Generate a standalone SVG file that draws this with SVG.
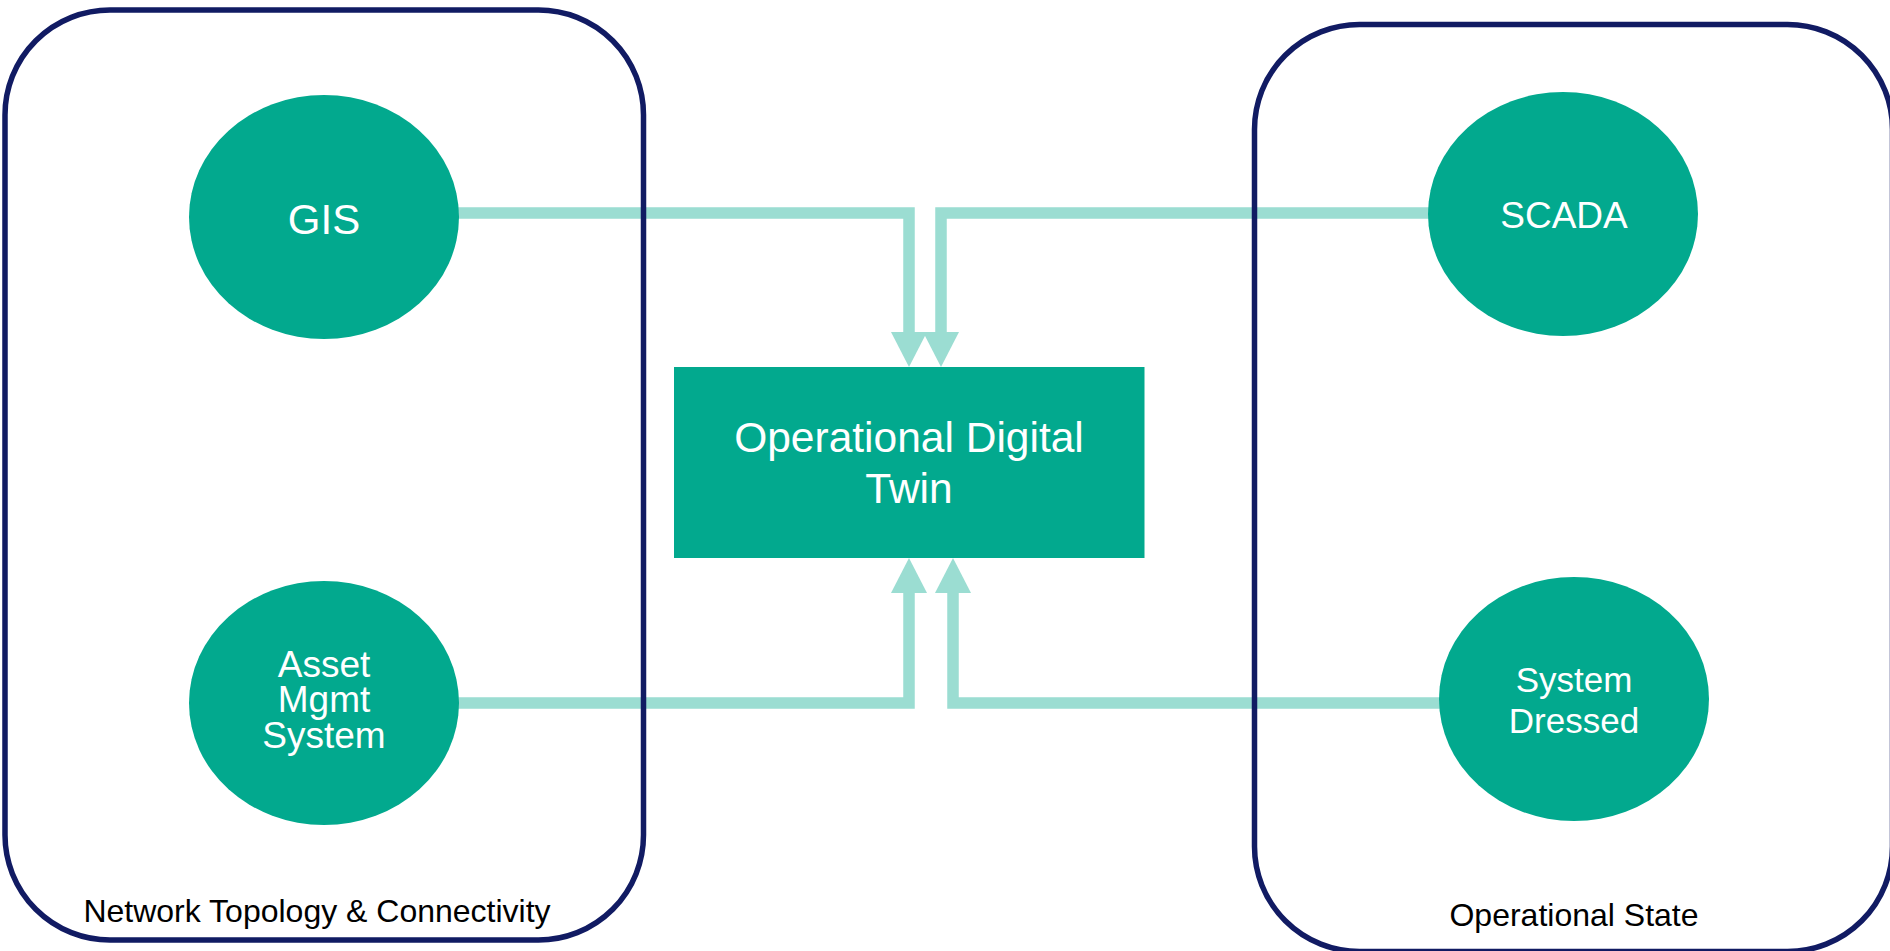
<svg xmlns="http://www.w3.org/2000/svg" width="1890" height="951" viewBox="0 0 1890 951">
  <style>
    .container { fill: none; stroke: #111b63; stroke-width: 5.5; }
    .node { fill: #02a98e; }
    .conn { fill: none; stroke: #9bddd2; stroke-width: 11.5; stroke-linejoin: miter; stroke-linecap: butt; }
    .lbl { font-family: "Liberation Sans", Arial, sans-serif; fill: #ffffff; text-anchor: middle; }
    .cap { font-family: "Liberation Sans", Arial, sans-serif; fill: #000000; text-anchor: middle; }
  </style>
  <defs>
    <marker id="arrow" markerUnits="userSpaceOnUse" markerWidth="35" markerHeight="36" viewBox="0 0 35 36" refX="0" refY="18" orient="auto">
      <path d="M0,0 L35,18 L0,36 Z" fill="#9bddd2"/>
    </marker>
  </defs>
  <rect width="1890" height="951" fill="#ffffff"/>

  <g id="connectors">
    <path class="conn" d="M400,213 H909 V332" marker-end="url(#arrow)"/>
    <path class="conn" d="M1500,213 H941 V332" marker-end="url(#arrow)"/>
    <path class="conn" d="M400,703 H909 V593" marker-end="url(#arrow)"/>
    <path class="conn" d="M1500,703 H953 V593" marker-end="url(#arrow)"/>
  </g>

  <g id="group-network-topology">
    <rect class="container" x="5" y="10" width="638.5" height="930" rx="105" ry="105"/>
    <text class="cap" x="317" y="922" font-size="32">Network Topology &amp; Connectivity</text>
  </g>

  <g id="group-operational-state">
    <rect class="container" x="1254.5" y="24.5" width="638" height="927" rx="105" ry="105"/>
    <text class="cap" x="1574" y="926" font-size="32">Operational State</text>
  </g>

  <g id="node-gis">
    <ellipse class="node" cx="324" cy="217" rx="135" ry="122"/>
    <text class="lbl" x="324" y="234" font-size="42">GIS</text>
  </g>

  <g id="node-asset">
    <ellipse class="node" cx="324" cy="703" rx="135" ry="122"/>
    <text class="lbl" font-size="37"><tspan x="324" y="677">Asset</tspan><tspan x="324" y="712">Mgmt</tspan><tspan x="324" y="748">System</tspan></text>
  </g>

  <g id="node-scada">
    <ellipse class="node" cx="1563" cy="214" rx="135" ry="122"/>
    <text class="lbl" x="1564" y="228" font-size="37">SCADA</text>
  </g>

  <g id="node-system-dressed">
    <ellipse class="node" cx="1574" cy="699" rx="135" ry="122"/>
    <text class="lbl" font-size="35"><tspan x="1574" y="692">System</tspan><tspan x="1574" y="733">Dressed</tspan></text>
  </g>

  <g id="node-odt">
    <rect class="node" x="674" y="367" width="470.5" height="191"/>
    <text class="lbl" font-size="42.5"><tspan x="909" y="452">Operational Digital</tspan><tspan x="909" y="503">Twin</tspan></text>
  </g>
</svg>
